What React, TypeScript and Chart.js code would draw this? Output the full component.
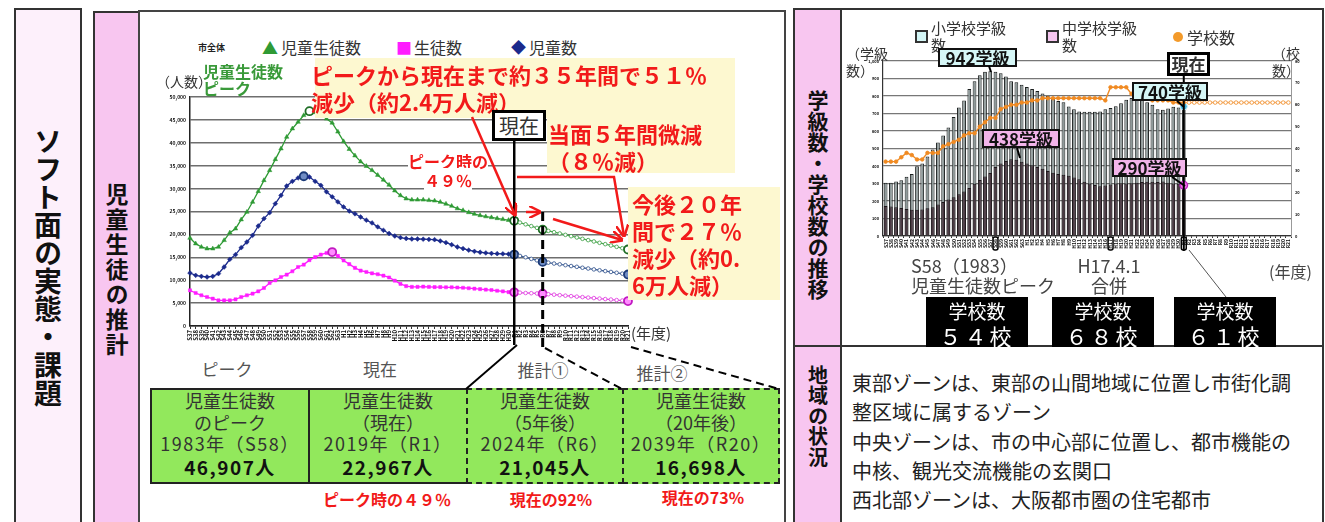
import React, { useEffect, useRef } from "react";
import { Chart, registerables } from "chart.js";

Chart.register(...registerables);

const FONT = '"Noto Sans CJK JP", "Noto Sans", sans-serif';

// ---------- categories (fiscal years 1962 .. 2039) ----------
const yearLabels = [
  "S37", "S38", "S39", "S40", "S41", "S42", "S43", "S44", "S45", "S46",
  "S47", "S48", "S49", "S50", "S51", "S52", "S53", "S54", "S55", "S56",
  "S57", "S58", "S59", "S60", "S61", "S62", "S63",
  "H1", "H2", "H3", "H4", "H5", "H6", "H7", "H8", "H9", "H10",
  "H11", "H12", "H13", "H14", "H15", "H16", "H17", "H18", "H19", "H20",
  "H21", "H22", "H23", "H24", "H25", "H26", "H27", "H28", "H29", "H30",
  "R1", "R2", "R3", "R4", "R5", "R6", "R7", "R8", "R9", "R10",
  "R11", "R12", "R13", "R14", "R15", "R16", "R17", "R18", "R19", "R20", "R21",
];

// ---------- left chart: 児童生徒数 (actual 1962-2019, projection 2020-2039) ----------
const totalActual = [
  19210, 17980, 17250, 16890, 16890, 17250, 18710, 20380, 21250, 23220,
  24890, 27070, 29400, 31800, 33990, 36390, 38720, 41270, 43090, 44540,
  46000, 46907, 46640, 46290, 45250, 44350, 42400, 40300, 38600, 37200,
  35900, 34900, 34000, 32950, 31900, 30800, 29550, 28500, 27800, 27550,
  27550, 27550, 27450, 27350, 27060, 26650, 26200, 25650, 25250, 24800,
  24450, 24150, 23900, 23700, 23500, 23300, 23100, 22967,
];
const totalProjected = [
  22580, 22200, 21810, 21430, 21045, 20770, 20480, 20200, 19900, 19610,
  19330, 19030, 18750, 18460, 18160, 17870, 17580, 17280, 16990, 16698,
];
// 児童数
const pupilsActual = [
  11570, 11060, 10840, 10700, 10840, 11430, 12880, 14560, 15580, 17100,
  18340, 19800, 21830, 23440, 24750, 26710, 28530, 30570, 31590, 32320,
  32700, 32530, 31590, 30710, 29300, 28200, 27100, 26000, 25100, 24500,
  23800, 23100, 22500, 21650, 20900, 20200, 19650, 19300, 19100, 19000,
  19000, 18950, 18900, 18850, 18560, 18200, 17750, 17250, 16900, 16550,
  16300, 16100, 15950, 15850, 15800, 15750, 15700, 15600,
];
const pupilsProjected = [
  15300, 15000, 14650, 14330, 14000, 13830, 13640, 13470, 13280, 13090,
  12920, 12720, 12550, 12360, 12170, 11990, 11800, 11620, 11430, 11250,
];
// 生徒数
const studentsActual = [
  7790, 7210, 6700, 6330, 5970, 5600, 5600, 5600, 5820, 6330,
  6700, 7060, 7570, 8300, 9390, 9970, 10700, 11210, 11940, 12880,
  13400, 14380, 15050, 15580, 15950, 16150, 15300, 14300, 13500, 12700,
  12100, 11800, 11500, 11300, 11000, 10600, 9900, 9200, 8700, 8550,
  8550, 8600, 8550, 8500, 8500, 8450, 8450, 8400, 8350, 8250,
  8150, 8050, 7950, 7850, 7700, 7550, 7400, 7350,
];
const studentsProjected = [
  7280, 7200, 7160, 7100, 7045, 6940, 6840, 6730, 6620, 6520,
  6410, 6310, 6200, 6100, 5990, 5880, 5780, 5660, 5560, 5450,
];
const leftYTicks = [0, 5000, 10000, 15000, 20000, 25000, 30000, 35000, 40000, 45000, 50000];

// ---------- right chart: 学級数・学校数 ----------
const elemClasses = [
  305, 305, 312, 318, 338, 355, 398, 415, 455, 495,
  535, 575, 620, 680, 735, 775, 840, 885, 918, 938,
  942, 938, 930, 912, 885, 878, 865, 852, 840, 828,
  815, 800, 785, 772, 765, 740, 725, 712, 710, 710,
  710, 712, 725, 732, 742, 758, 778, 788, 785, 778,
  765, 750, 725, 722, 728, 738, 735, 740,
];
const juniorClasses = [
  172, 168, 165, 160, 155, 150, 150, 152, 158, 165,
  180, 195, 208, 222, 238, 255, 275, 298, 320, 340,
  360, 395, 415, 428, 438, 436, 425, 415, 405, 395,
  385, 372, 362, 355, 350, 345, 335, 325, 310, 300,
  292, 285, 288, 295, 300, 302, 300, 302, 305, 308,
  310, 310, 308, 312, 305, 300, 298, 290,
];
const schoolsActual = [
  34, 34, 34, 36, 38, 37, 35, 35, 38, 38,
  38, 41, 42, 43, 44, 46, 47, 47, 50, 52,
  54, 54, 58, 59, 60, 60, 61, 61, 62, 62,
  63, 63, 63, 63, 63, 63, 63, 63, 63, 63,
  63, 63, 62, 68, 68, 68, 68, 65, 64, 64,
  63, 62, 62, 62, 62, 61, 61, 61,
];
const schoolsProjected = [
  61, 61, 61, 61, 61, 61, 61, 61, 61, 61,
  61, 61, 61, 61, 61, 61, 61, 61, 61, 61,
];

const idxNow = yearLabels.indexOf("R1");
const idx5 = yearLabels.indexOf("R6");
const idxEnd = yearLabels.indexOf("R21");
const idxPeakTotal = yearLabels.indexOf("S58");
const idxPeakPupils = yearLabels.indexOf("S57");
const idxPeakStudents = yearLabels.indexOf("S62");
const idxMerge = yearLabels.indexOf("H17");

function series(label: string, actual: number[], projected: number[], c: any) {
  const keys = [c.peak, idxNow, idx5, idxEnd];
  const isKey = (i: number) => keys.includes(i);
  return {
    label,
    data: [...actual, ...projected],
    borderColor: c.color,
    borderWidth: 1.3,
    segment: { borderColor: (s: any) => (s.p0DataIndex >= idxNow ? c.proj : c.color) },
    pointStyle: (x: any) => (isKey(x.dataIndex) || x.dataIndex > idxNow ? "circle" : c.style),
    pointRadius: (x: any) => (isKey(x.dataIndex) ? 4 : x.dataIndex > idxNow ? 1.8 : c.r),
    pointBackgroundColor: (x: any) => (isKey(x.dataIndex) ? c.keyFill : x.dataIndex > idxNow ? "#ffffff" : c.color),
    pointBorderColor: (x: any) => (isKey(x.dataIndex) ? c.keyBorder : x.dataIndex > idxNow ? c.proj : c.color),
    pointBorderWidth: (x: any) => (isKey(x.dataIndex) ? 1.8 : x.dataIndex > idxNow ? 0.9 : 0.5),
    tension: 0,
  };
}

const leftLinesPlugin = {
  id: "leftLines",
  afterDatasetsDraw(chart: any) {
    const { ctx, scales } = chart;
    const x = scales.x;
    const xn = x.getPixelForValue(idxNow);
    const x5 = x.getPixelForValue(idx5);
    ctx.save();
    ctx.strokeStyle = "#000";
    ctx.lineWidth = 2.5;
    ctx.beginPath();
    ctx.moveTo(xn, 141 - 90);
    ctx.lineTo(xn, 345 - 90);
    ctx.stroke();
    ctx.setLineDash([9, 5]);
    ctx.lineWidth = 3;
    ctx.beginPath();
    ctx.moveTo(x5, 212 - 90);
    ctx.lineTo(x5, 348 - 90);
    ctx.stroke();
    ctx.restore();
  },
};

const rightLinesPlugin = {
  id: "rightLines",
  afterDatasetsDraw(chart: any) {
    const { ctx, scales } = chart;
    const x = scales.x;
    const bottom = chart.chartArea.bottom;
    ctx.save();
    ctx.strokeStyle = "#000";
    ctx.lineWidth = 2;
    const xn = x.getPixelForValue(idxNow);
    ctx.beginPath();
    ctx.moveTo(xn, 75 - 40);
    ctx.lineTo(xn, 251 - 40);
    ctx.stroke();
    ctx.lineWidth = 1.5;
    [idxPeakTotal, idxMerge, idxNow].forEach((i) => {
      const px = x.getPixelForValue(i);
      ctx.beginPath();
      ctx.roundRect(px - 2.5, bottom + 1, 5, 13, 2);
      ctx.stroke();
    });
    ctx.restore();
  },
};

const fmt = (v: any) => Number(v).toLocaleString("en-US");

export default function App() {
  const leftRef = useRef<HTMLCanvasElement | null>(null);
  const rightRef = useRef<HTMLCanvasElement | null>(null);

  useEffect(() => {
    const left = new Chart(leftRef.current as HTMLCanvasElement, {
      type: "line",
      data: {
        labels: yearLabels,
        datasets: [
          series("児童生徒数", totalActual, totalProjected, {
            color: "#2f9a35", proj: "#4aa650", style: "triangle", r: 2.6,
            keyFill: "#ffffff", keyBorder: "#1f6e25", peak: idxPeakTotal,
          }),
          series("生徒数", studentsActual, studentsProjected, {
            color: "#ff1cff", proj: "#e24ae2", style: "rect", r: 2.2,
            keyFill: "#ff8cff", keyBorder: "#c21ac2", peak: idxPeakStudents,
          }),
          series("児童数", pupilsActual, pupilsProjected, {
            color: "#1b2a8c", proj: "#3f5f95", style: "rectRot", r: 2.4,
            keyFill: "#6f8cc4", keyBorder: "#1b3a78", peak: idxPeakPupils,
          }),
        ] as any,
      },
      options: {
        animation: false,
        responsive: false,
        maintainAspectRatio: false,
        layout: { padding: { top: 7, right: 12, left: 0, bottom: 0 } },
        plugins: { legend: { display: false }, tooltip: { enabled: false } },
        scales: {
          x: {
            grid: { drawOnChartArea: false, drawTicks: true, tickLength: 3, color: "#333" },
            border: { color: "#222", width: 1.5 },
            ticks: {
              autoSkip: false, minRotation: 90, maxRotation: 90, padding: 1,
              font: { size: 6, weight: "bold", family: FONT }, color: "#111",
            },
            afterFit: (s: any) => { s.height = 26; },
          },
          y: {
            min: leftYTicks[0],
            max: leftYTicks[leftYTicks.length - 1],
            ticks: {
              stepSize: leftYTicks[1] - leftYTicks[0], padding: 4,
              font: { size: 5, weight: "bold", family: FONT }, color: "#111",
              callback: fmt,
            },
            grid: { color: "#6e6e6e", lineWidth: 1.4, drawTicks: false },
            border: { color: "#222", width: 1.5 },
            afterFit: (s: any) => { s.width = 50; },
          },
        },
      } as any,
      plugins: [leftLinesPlugin],
    });

    const right = new Chart(rightRef.current as HTMLCanvasElement, {
      type: "bar",
      data: {
        labels: yearLabels,
        datasets: [
          {
            type: "line", label: "学校数", yAxisID: "y2", order: 0,
            data: [...schoolsActual, ...schoolsProjected],
            borderColor: "#f08a22", borderWidth: 1.4,
            segment: { borderColor: (s: any) => (s.p0DataIndex >= idxNow ? "#f5b070" : "#f08a22") },
            pointRadius: 1.8,
            pointBackgroundColor: (x: any) => (x.dataIndex > idxNow ? "#ffffff" : "#f08a22"),
            pointBorderColor: "#f08a22",
            pointBorderWidth: 0.8,
          },
          {
            type: "line", label: "現在小学校", yAxisID: "y", order: 0, showLine: false,
            data: elemClasses.map((v, i) => (i === idxNow ? v : null)),
            pointRadius: 3.5, pointBackgroundColor: "#3fb6e0", pointBorderColor: "#bfeaf5", pointBorderWidth: 1,
          },
          {
            type: "line", label: "現在中学校", yAxisID: "y", order: 0, showLine: false,
            data: juniorClasses.map((v, i) => (i === idxNow ? v : null)),
            pointRadius: 3.8, pointBackgroundColor: "#f070e8", pointBorderColor: "#c020c0", pointBorderWidth: 1.3,
          },
          {
            label: "中学校学級数", yAxisID: "y", order: 1, data: juniorClasses,
            backgroundColor: "#4c3a44", borderColor: "#1e171b", borderWidth: 1,
            barPercentage: 0.72, categoryPercentage: 1,
          },
          {
            label: "小学校学級数", yAxisID: "y", order: 2, data: elemClasses,
            backgroundColor: "#8f9a9a", borderColor: "#1a1e1e", borderWidth: 1,
            barPercentage: 0.72, categoryPercentage: 1,
          },
        ] as any,
      },
      options: {
        animation: false,
        responsive: false,
        maintainAspectRatio: false,
        layout: { padding: { top: 21, right: 0, left: 0, bottom: 0 } },
        plugins: { legend: { display: false }, tooltip: { enabled: false } },
        scales: {
          x: {
            stacked: true,
            grid: { drawOnChartArea: false, drawTicks: true, tickLength: 2, color: "#333" },
            border: { color: "#333", width: 1.2 },
            ticks: {
              autoSkip: false, minRotation: 90, maxRotation: 90, padding: 1,
              font: { size: 5, weight: "bold", family: FONT }, color: "#111",
            },
            afterFit: (s: any) => { s.height = 19; },
          },
          y: {
            stacked: false, min: 0, max: 1000,
            ticks: { stepSize: 100, padding: 4, font: { size: 4, weight: "bold", family: FONT }, color: "#111", callback: fmt },
            grid: { color: "#777", lineWidth: 1.3, drawTicks: false },
            border: { color: "#333", width: 1.2 },
            afterFit: (s: any) => { s.width = 41; },
          },
          y2: {
            position: "right", min: 0, max: 80,
            ticks: { stepSize: 10, padding: 4, font: { size: 4, weight: "bold", family: FONT }, color: "#111" },
            grid: { drawOnChartArea: false, drawTicks: false },
            border: { color: "#999", width: 1 },
            afterFit: (s: any) => { s.width = 31; },
          },
        },
      } as any,
      plugins: [rightLinesPlugin],
    });

    return () => {
      left.destroy();
      right.destroy();
    };
  }, []);

  const abs = (l: number, t: number, extra: any = {}) => ({ position: "absolute" as const, left: l, top: t, ...extra });
  const red = "#f21a1a";
  const yellow = "#fdf8d0";
  const green = "#92e85c";
  const redText = { fontSize: 22, lineHeight: "24px", color: red, whiteSpace: "nowrap" as const, fontWeight: 600 };

  const boxLines = (a: string, b: string, c: string, d: string) => (
    <>
      <div style={{ fontSize: 18, lineHeight: "21.7px", color: "#333" }}>{a}</div>
      <div style={{ fontSize: 18, lineHeight: "21.7px", color: "#333" }}>{b}</div>
      <div style={{ fontSize: 18, lineHeight: "21.7px", color: "#333", letterSpacing: 1.5 }}>{c}</div>
      <div style={{ fontSize: 19, lineHeight: "23px", color: "#111", fontWeight: 700, letterSpacing: 1.5 }}>{d}</div>
    </>
  );

  const callout = (l: number, t: number, w: number, bg: string, text: string) => (
    <div style={abs(l, t, {
      width: w, height: 19, boxSizing: "border-box", border: "2px solid #111", background: bg,
      fontSize: 17, fontWeight: 700, lineHeight: "15px", textAlign: "center", color: "#111",
    })}>{text}</div>
  );

  const schoolBox = (l: number, n: string) => (
    <div style={abs(l, 297, { width: 102, height: 50, background: "#000", color: "#fff", textAlign: "center" })}>
      <div style={{ fontSize: 19, lineHeight: "22px", marginTop: 3 }}>学校数</div>
      <div style={{ fontSize: 22, lineHeight: "26px", letterSpacing: 3 }}>{n}</div>
    </div>
  );

  return (
    <div style={{ position: "absolute", left: 0, top: 0, width: 1325, height: 522, overflow: "hidden", background: "#fff", fontFamily: FONT, color: "#222" }}>
      {/* left title columns */}
      <div style={abs(14, 8, { width: 68, height: 520, boxSizing: "border-box", border: "2px solid #333", background: "#fdf0fb" })} />
      <div style={abs(14, 127, { width: 68, height: 282, display: "flex", justifyContent: "center" })}>
        <div style={{ writingMode: "vertical-rl", fontSize: 28, fontWeight: 700, lineHeight: "28px", color: "#111" }}>ソフト面の実態・課題</div>
      </div>
      <div style={abs(93, 11, { width: 47, height: 520, boxSizing: "border-box", border: "2px solid #333", background: "#f8c6f0" })} />
      <div style={abs(93, 183, { width: 47, height: 180, display: "flex", justifyContent: "center" })}>
        <div style={{ writingMode: "vertical-rl", fontSize: 23, fontWeight: 700, lineHeight: "23px", letterSpacing: 2, color: "#111" }}>児童生徒の推計</div>
      </div>

      {/* left panel */}
      <div style={abs(138, 10, { width: 648, height: 520, boxSizing: "border-box", border: "2px solid #444", background: "#fff" })} />
      <canvas ref={leftRef} width={500} height={262} style={abs(140, 90, { width: 500, height: 262 })} />

      <div style={abs(198, 42, { fontSize: 9, fontWeight: 700, lineHeight: "12px", color: "#222" })}>市全体</div>
      <div style={abs(262, 37, { fontSize: 16, lineHeight: "20px", color: "#2f9a35" })}>▲</div>
      <div style={abs(281, 37, { fontSize: 16, lineHeight: "20px", color: "#333" })}>児童生徒数</div>
      <div style={abs(396, 37, { fontSize: 16, lineHeight: "20px", color: "#ff1cff" })}>■</div>
      <div style={abs(414, 37, { fontSize: 16, lineHeight: "20px", color: "#333" })}>生徒数</div>
      <div style={abs(511, 37, { fontSize: 15, lineHeight: "20px", color: "#1b2a8c" })}>◆</div>
      <div style={abs(529, 37, { fontSize: 16, lineHeight: "20px", color: "#333" })}>児童数</div>

      <div style={abs(156, 72, { fontSize: 14, lineHeight: "18px", color: "#333" })}>（人数）</div>
      <div style={abs(203, 63, { fontSize: 16, lineHeight: "17px", fontWeight: 700, color: "#3a9a3a" })}>
        <div>児童生徒数</div>
        <div>ピーク</div>
      </div>

      {/* yellow annotation 1 */}
      <div style={abs(315, 58, { width: 420, height: 60, background: yellow })} />
      <div style={abs(311, 62, redText)}>ピークから現在まで約３５年間で５１％</div>
      <div style={abs(311, 89, redText)}>減少（約2.4万人減）</div>

      {/* 現在 box (left) */}
      <div style={abs(492, 110, {
        width: 54, height: 31, boxSizing: "border-box", border: "3px solid #000", background: "#fff",
        fontSize: 20, lineHeight: "25px", textAlign: "center", color: "#333",
      })}>現在</div>

      {/* yellow annotation 2 */}
      <div style={abs(547, 118, { width: 188, height: 55, background: yellow })} />
      <div style={abs(548, 121, redText)}>当面５年間微減</div>
      <div style={abs(548, 148, redText)}>（８％減）</div>

      {/* peak ratio */}
      <div style={abs(405, 152, { width: 86, textAlign: "center", fontSize: 16, lineHeight: "19px", color: red, fontWeight: 600 })}>
        <div><span style={{ background: "#fff" }}>ピーク時の</span></div>
        <div><span style={{ background: "#fff" }}>４９％</span></div>
      </div>

      {/* yellow annotation 3 */}
      <div style={abs(628, 187, { width: 152, height: 113, background: yellow })} />
      <div style={abs(632, 190, { ...redText, lineHeight: "27px" })}>
        <div>今後２０年</div>
        <div>間で２７％</div>
        <div>減少（約0.</div>
        <div>6万人減）</div>
      </div>

      <div style={abs(631, 324, { fontSize: 15, lineHeight: "18px", color: "#333" })}>(年度)</div>

      {/* labels above boxes */}
      <div style={abs(177, 358, { width: 100, textAlign: "center", fontSize: 17, lineHeight: "22px", color: "#555" })}>ピーク</div>
      <div style={abs(330, 358, { width: 100, textAlign: "center", fontSize: 17, lineHeight: "22px", color: "#555" })}>現在</div>
      <div style={abs(493, 359, { width: 100, textAlign: "center", fontSize: 17, lineHeight: "22px", color: "#555" })}>推計①</div>
      <div style={abs(612, 362, { width: 100, textAlign: "center", fontSize: 17, lineHeight: "22px", color: "#555" })}>推計②</div>

      {/* bottom boxes */}
      <div style={abs(150, 388, { width: 160, height: 96, boxSizing: "border-box", border: "2px solid #222", background: green, textAlign: "center", whiteSpace: "nowrap" })}>
        {boxLines("児童生徒数", "のピーク", "1983年（S58）", "46,907人")}
      </div>
      <div style={abs(308, 388, { width: 160, height: 96, boxSizing: "border-box", border: "2px solid #222", background: green, textAlign: "center", whiteSpace: "nowrap" })}>
        {boxLines("児童生徒数", "（現在）", "2019年（R1）", "22,967人")}
      </div>
      <div style={abs(466, 388, { width: 158, height: 96, boxSizing: "border-box", border: "2px dashed #222", background: green, textAlign: "center", whiteSpace: "nowrap" })}>
        {boxLines("児童生徒数", "（5年後）", "2024年（R6）", "21,045人")}
      </div>
      <div style={abs(622, 388, { width: 158, height: 96, boxSizing: "border-box", border: "2px dashed #222", background: green, textAlign: "center", whiteSpace: "nowrap" })}>
        {boxLines("児童生徒数", "（20年後）", "2039年（R20）", "16,698人")}
      </div>

      <div style={abs(317, 489, { width: 140, textAlign: "center", fontSize: 16, fontWeight: 700, lineHeight: "20px", color: red })}>ピーク時の４９％</div>
      <div style={abs(491, 489, { width: 120, textAlign: "center", fontSize: 16, fontWeight: 700, lineHeight: "20px", color: red })}>現在の92%</div>
      <div style={abs(643, 487, { width: 120, textAlign: "center", fontSize: 16, fontWeight: 700, lineHeight: "20px", color: red })}>現在の73%</div>

      {/* right panel */}
      <div style={abs(793, 8, { width: 49, height: 339, boxSizing: "border-box", border: "2px solid #333", background: "#f8c6f0" })} />
      <div style={abs(793, 345, { width: 49, height: 180, boxSizing: "border-box", border: "2px solid #333", background: "#f8c6f0" })} />
      <div style={abs(840, 8, { width: 484, height: 339, boxSizing: "border-box", border: "2px solid #333", background: "#fff" })} />
      <div style={abs(840, 345, { width: 484, height: 180, boxSizing: "border-box", border: "2px solid #333", background: "#fff" })} />
      <div style={abs(793, 90, { width: 49, height: 215, display: "flex", justifyContent: "center" })}>
        <div style={{ writingMode: "vertical-rl", fontSize: 21, fontWeight: 700, lineHeight: "21px", color: "#111" }}>学級数・学校数の推移</div>
      </div>
      <div style={abs(793, 365, { width: 49, height: 110, display: "flex", justifyContent: "center" })}>
        <div style={{ writingMode: "vertical-rl", fontSize: 20, fontWeight: 700, lineHeight: "20px", letterSpacing: 0.5, color: "#111" }}>地域の状況</div>
      </div>

      <canvas ref={rightRef} width={480} height={215} style={abs(842, 40, { width: 480, height: 215 })} />

      <div style={abs(846, 45, { fontSize: 14, lineHeight: "17px", color: "#333" })}>
        <div>（学級</div>
        <div>数）</div>
      </div>
      <div style={abs(1272, 45, { fontSize: 14, lineHeight: "17px", color: "#333" })}>
        <div>（校</div>
        <div>数）</div>
      </div>

      {/* right legend */}
      <div style={abs(915, 30, { width: 13, height: 13, boxSizing: "border-box", border: "2px solid #333", background: "#d4f6f6" })} />
      <div style={abs(931, 19, { fontSize: 15, lineHeight: "17px", color: "#333" })}>
        <div>小学校学級</div>
        <div>数</div>
      </div>
      <div style={abs(1046, 30, { width: 13, height: 13, boxSizing: "border-box", border: "2px solid #333", background: "#f6c6f0" })} />
      <div style={abs(1062, 19, { fontSize: 15, lineHeight: "17px", color: "#333" })}>
        <div>中学校学級</div>
        <div>数</div>
      </div>
      <div style={abs(1173, 32, { width: 10, height: 10, borderRadius: "50%", background: "#f39a2a" })} />
      <div style={abs(1187, 28, { fontSize: 16, lineHeight: "18px", color: "#333" })}>学校数</div>

      {callout(938, 48, 79, "#d6f7f7", "942学級")}
      {callout(982, 129, 78, "#f2b4ea", "438学級")}
      {callout(1132, 82, 76, "#d6f7f7", "740学級")}
      {callout(1112, 158, 75, "#f2b4ea", "290学級")}

      <div style={abs(1167, 52, {
        width: 43, height: 24, boxSizing: "border-box", border: "3px solid #000", background: "#fff",
        fontSize: 17, fontWeight: 700, lineHeight: "18px", textAlign: "center", color: "#333",
      })}>現在</div>

      <div style={abs(911, 255, { fontSize: 18, lineHeight: "20px", color: "#444", whiteSpace: "nowrap" })}>
        <div>S58（1983）</div>
        <div>児童生徒数ピーク</div>
      </div>
      <div style={abs(1059, 255, { width: 100, textAlign: "center", fontSize: 18, lineHeight: "20px", color: "#444" })}>
        <div>H17.4.1</div>
        <div>合併</div>
      </div>
      <div style={abs(1269, 262, { fontSize: 16, lineHeight: "18px", color: "#444" })}>(年度)</div>

      {schoolBox(926, "５４校")}
      {schoolBox(1052, "６８校")}
      {schoolBox(1174, "６１校")}

      <div style={abs(852, 368, { fontSize: 20, lineHeight: "29.3px", color: "#222", whiteSpace: "nowrap" })}>
        <div>東部ゾーンは、東部の山間地域に位置し市街化調</div>
        <div>整区域に属するゾーン</div>
        <div>中央ゾーンは、市の中心部に位置し、都市機能の</div>
        <div>中核、観光交流機能の玄関口</div>
        <div>西北部ゾーンは、大阪都市圏の住宅都市</div>
      </div>

      {/* connectors and arrows */}
      <svg width={1325} height={522} style={{ position: "absolute", left: 0, top: 0, pointerEvents: "none" }}>
        <defs>
          <marker id="ah" viewBox="0 0 10 10" refX="9" refY="5" markerWidth="5" markerHeight="5" orient="auto" markerUnits="strokeWidth">
            <path d="M0,0 L10,5 L0,10" fill="none" stroke={red} strokeWidth="2" />
          </marker>
        </defs>
        <g stroke={red} strokeWidth={2.5} fill="none">
          <path d="M472,117 L515,215" markerEnd="url(#ah)" />
          <path d="M526,212 L540,212" markerEnd="url(#ah)" />
          <path d="M553,219 L622,240" markerEnd="url(#ah)" />
          <path d="M517,177 L614,177 L624,236" markerEnd="url(#ah)" />
        </g>
        <g stroke="#000" strokeWidth={2} fill="none">
          <path d="M517,345 L466,389" />
          <path d="M545,348 L622,389" strokeDasharray="8 5" />
          <path d="M631,347 L779,389" strokeDasharray="8 5" />
          <path d="M989,66 L991,72" />
          <path d="M1017,148 L1020,158" />
          <path d="M1177,101 L1184,107" />
          <path d="M1172,177 L1185,186" />
        </g>
        <path d="M1189,250 L1226,297" stroke="#555" strokeWidth={1} fill="none" />
      </svg>
    </div>
  );
}
